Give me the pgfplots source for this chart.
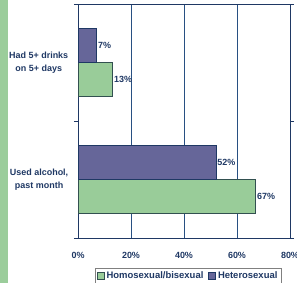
\documentclass[border=0pt]{standalone}
\usepackage{pgfplots}
\pgfplotsset{compat=1.18}
\usepackage{fontspec}
\setmainfont{Liberation Sans}
\definecolor{navy}{RGB}{31,56,100}
\definecolor{gridblue}{RGB}{40,80,130}
\definecolor{stripgreen}{RGB}{155,205,155}
\definecolor{bargreen}{RGB}{153,204,153}
\definecolor{barpurple}{RGB}{102,102,153}
\definecolor{edgegreen}{RGB}{50,80,80}
\begin{document}
\begin{tikzpicture}[x=1bp,y=1bp]
\path[use as bounding box] (0,0) rectangle (297,283);
\fill[stripgreen] (0,0) rectangle (8,283);
\begin{axis}[
  at={(78bp,45bp)}, anchor=south west,
  scale only axis, width=212bp, height=234bp,
  xmin=0, xmax=80, ymin=-0.5, ymax=1.5,
  /pgf/number format/assume math mode=true,
  xbar, bar width=34bp,
  axis line style={navy, line width=1pt},
  xtick={0,20,40,60,80},
  xticklabels={0\%,20\%,40\%,60\%,80\%},
  xmajorgrids, grid style={gridblue, line width=0.9pt},
  major x tick style={draw=none},
  ytick={0,1},
  yticklabels={{Used alcohol,\\past month},{Had 5+ drinks\\on 5+ days}},
  major y tick style={draw=none},
  minor ytick={-0.5,0.5,1.5},
  minor y tick style={navy, line width=0.8pt},
  tick align=outside, minor tick length=4bp,
  yticklabel style={align=center, font=\bfseries\fontsize{9}{13.5}\selectfont, text=navy, xshift=-2bp},
  xticklabel style={font=\bfseries\fontsize{9}{10}\selectfont, text=navy, yshift=-6bp},
  nodes near coords={\pgfmathprintnumber{\pgfplotspointmeta}\%},
  every node near coord/.append style={font=\bfseries\fontsize{9}{10}\selectfont, text=navy, anchor=west, xshift=-2bp},
  legend style={at={(0.52,-0.128)}, anchor=north, legend columns=2, draw=gray, line width=0.6pt,
    font=\bfseries\fontsize{9.5}{11}\selectfont, text=navy, inner sep=1.5pt,
    /tikz/every even column/.append style={column sep=3bp}},
  legend image code/.code={\draw[#1, line width=0.6pt] (0bp,-3.5bp) rectangle (7bp,3.5bp);},
  clip=false,
]
\addplot[fill=bargreen, draw=edgegreen, line width=0.6pt, bar shift=-17bp] coordinates {(67,0) (13,1)};
\addplot[fill=barpurple, draw=navy, line width=0.6pt, bar shift=17bp] coordinates {(52,0) (7,1)};
\legend{Homosexual/bisexual, Heterosexual}
\end{axis}
\end{tikzpicture}
\end{document}
